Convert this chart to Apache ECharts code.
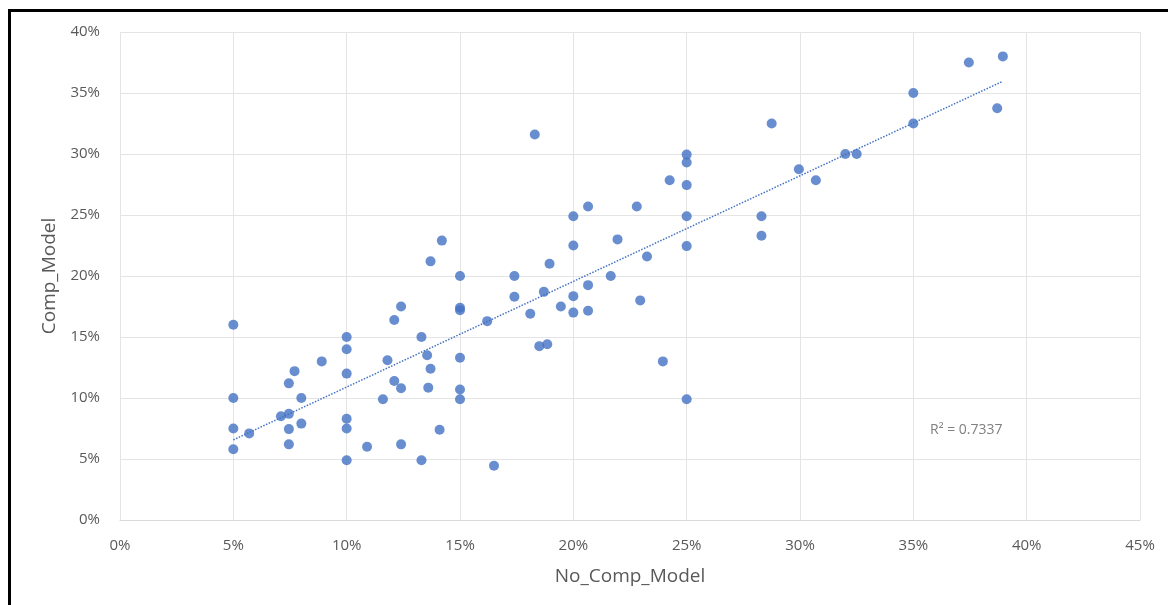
<!DOCTYPE html>
<html>
<head>
<meta charset="utf-8">
<script src="https://cdn.jsdelivr.net/npm/echarts@6/dist/echarts.min.js"></script>
<style>
html,body{margin:0;padding:0;background:#fff;}
#chart{width:1168px;height:605px;}
</style>
</head>
<body>
<div id="chart"></div>
<script>
// Data (percent)
const xValues = [5,5,5,5,5.7,7.1,7.45,7.45,7.7,7.45,7.45,8,8,8.9,10,10,10,10,10,10,10.9,11.6,11.8,12.1,12.4,12.1,12.4,12.4,13.3,13.3,13.55,13.7,13.6,13.7,14.2,14.1,15,15,15,15,15,15,16.2,16.5,17.4,17.4,18.3,18.1,18.5,18.85,18.7,18.95,19.45,20,20,20,20,20.65,20.65,20.65,21.65,21.95,22.8,22.95,23.25,23.95,24.25,25,25,25,25,25,25,28.3,28.3,28.75,29.95,30.7,32,32.5,35,35,37.45,38.95,38.7];
const yValues = [16,10,7.5,5.8,7.1,8.5,8.7,11.2,12.2,7.45,6.2,10,7.9,13,15,14,12,8.3,7.5,4.9,6,9.9,13.1,16.4,17.5,11.4,10.8,6.2,4.9,15,13.5,12.4,10.85,21.2,22.9,7.4,20,17.4,17.2,13.3,10.7,9.9,16.3,4.45,20,18.3,31.6,16.9,14.25,14.4,18.7,21,17.5,24.9,22.5,18.35,17,25.7,19.25,17.15,20,23,25.7,18,21.6,13,27.85,29.95,29.3,27.45,24.9,22.45,9.9,24.9,23.3,32.5,28.75,27.85,30,30,35,32.5,37.5,38,33.75];
const r2Label = 'R² = 0.7337';

const points = xValues.map((x, i) => [x, yValues[i]]);

// Linear least-squares trendline (like Excel's)
const n = xValues.length;
const mx = xValues.reduce((a, b) => a + b, 0) / n;
const my = yValues.reduce((a, b) => a + b, 0) / n;
let sxy = 0, sxx = 0;
for (let i = 0; i < n; i++) { sxy += (xValues[i] - mx) * (yValues[i] - my); sxx += (xValues[i] - mx) ** 2; }
const slope = sxy / sxx, intercept = my - slope * mx;
const xmin = Math.min(...xValues), xmax = Math.max(...xValues);
const trend = [[xmin, intercept + slope * xmin], [xmax, intercept + slope * xmax]];

const FONT = '"Open Sans", sans-serif';
const chart = echarts.init(document.getElementById('chart'));
chart.setOption({
  animation: false,
  backgroundColor: '#fff',
  grid: { left: 120, right: 28, top: 32, bottom: 85, containLabel: false },
  xAxis: {
    type: 'value', min: 0, max: 45, interval: 5,
    name: 'No_Comp_Model', nameLocation: 'middle', nameGap: 47,
    nameTextStyle: { color: '#595959', fontSize: 19, fontFamily: FONT },
    axisLine: { show: true, lineStyle: { color: '#d9d9d9', width: 1 } },
    axisTick: { show: false },
    axisLabel: { formatter: '{value}%', color: '#595959', fontSize: 15, fontFamily: FONT, margin: 18 },
    splitLine: { show: true, lineStyle: { color: '#e4e4e4', width: 1 } }
  },
  yAxis: {
    type: 'value', min: 0, max: 40, interval: 5,
    name: 'Comp_Model', nameLocation: 'middle', nameGap: 61,
    nameTextStyle: { color: '#595959', fontSize: 19, fontFamily: FONT },
    axisLine: { show: false },
    axisTick: { show: false },
    axisLabel: { formatter: '{value}%', color: '#595959', fontSize: 15, fontFamily: FONT, margin: 20 },
    splitLine: { show: true, lineStyle: { color: '#e4e4e4', width: 1 } }
  },
  series: [
    {
      type: 'scatter', data: points, symbolSize: 10,
      itemStyle: { color: '#4472C4' }, z: 3
    },
    {
      type: 'line', data: trend, symbol: 'none', silent: true,
      lineStyle: { color: '#4472C4', width: 1.5, type: 'dotted' }, z: 4
    }
  ],
  graphic: [
    { type: 'text', left: 930, top: 423,
      style: { text: r2Label, fill: '#808080', fontSize: 14, fontFamily: FONT } },
    { type: 'rect', shape: { x: 9.5, y: 10.5, width: 2000, height: 2000 },
      style: { fill: 'none', stroke: '#000', lineWidth: 3 }, silent: true }
  ]
});
</script>
</body>
</html>
